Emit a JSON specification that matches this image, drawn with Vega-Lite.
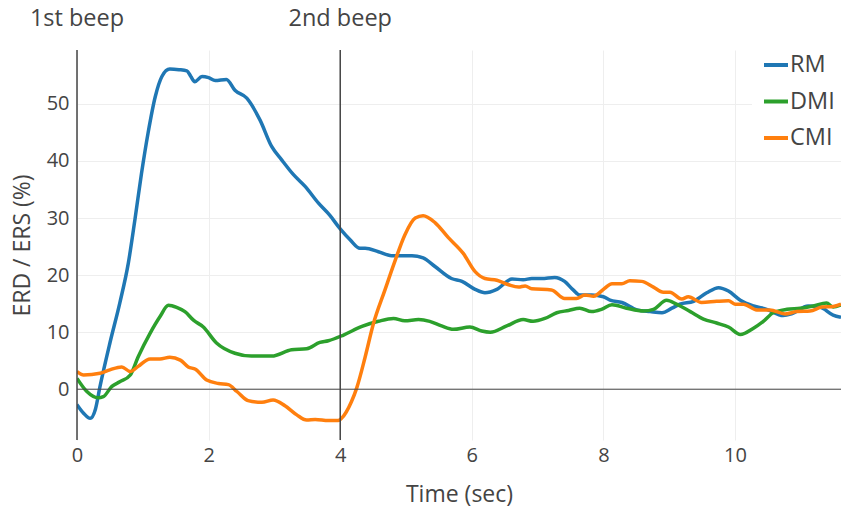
{
  "$schema": "https://vega.github.io/schema/vega-lite/v6.json",
  "width": 764,
  "height": 390,
  "autosize": {"type": "none"},
  "padding": {"left": 77, "top": 50, "right": 0, "bottom": 67},
  "background": "white",
  "config": {
    "font": "Open Sans",
    "view": {"stroke": null},
    "axis": {
      "labelFont": "Open Sans",
      "titleFont": "Open Sans",
      "labelColor": "#444444",
      "titleColor": "#444444",
      "labelFontSize": 20,
      "titleFontSize": 23,
      "titleFontWeight": "normal",
      "domain": false,
      "ticks": false,
      "labelFlush": false,
      "gridColor": "#eeeeee",
      "gridWidth": 1
    }
  },
  "datasets": {
    "erd": [
      {"t": 0, "value": -2.7, "condition": "RM"},
      {"t": 0.1, "value": -4.2, "condition": "RM"},
      {"t": 0.2, "value": -5.1, "condition": "RM"},
      {"t": 0.28, "value": -3.5, "condition": "RM"},
      {"t": 0.35, "value": 0.5, "condition": "RM"},
      {"t": 0.5, "value": 8.1, "condition": "RM"},
      {"t": 0.65, "value": 15.1, "condition": "RM"},
      {"t": 0.78, "value": 22.1, "condition": "RM"},
      {"t": 0.88, "value": 29.7, "condition": "RM"},
      {"t": 0.98, "value": 37.8, "condition": "RM"},
      {"t": 1.08, "value": 44.9, "condition": "RM"},
      {"t": 1.19, "value": 51.3, "condition": "RM"},
      {"t": 1.29, "value": 54.8, "condition": "RM"},
      {"t": 1.41, "value": 56.1, "condition": "RM"},
      {"t": 1.55, "value": 56.0, "condition": "RM"},
      {"t": 1.67, "value": 55.8, "condition": "RM"},
      {"t": 1.73, "value": 54.8, "condition": "RM"},
      {"t": 1.79, "value": 53.9, "condition": "RM"},
      {"t": 1.9, "value": 54.8, "condition": "RM"},
      {"t": 2.0, "value": 54.6, "condition": "RM"},
      {"t": 2.1, "value": 54.1, "condition": "RM"},
      {"t": 2.27, "value": 54.3, "condition": "RM"},
      {"t": 2.4, "value": 52.4, "condition": "RM"},
      {"t": 2.58, "value": 51.0, "condition": "RM"},
      {"t": 2.78, "value": 47.2, "condition": "RM"},
      {"t": 2.96, "value": 42.5, "condition": "RM"},
      {"t": 3.11, "value": 40.2, "condition": "RM"},
      {"t": 3.29, "value": 37.6, "condition": "RM"},
      {"t": 3.47, "value": 35.5, "condition": "RM"},
      {"t": 3.67, "value": 32.6, "condition": "RM"},
      {"t": 3.84, "value": 30.5, "condition": "RM"},
      {"t": 4.0, "value": 28.1, "condition": "RM"},
      {"t": 4.15, "value": 26.2, "condition": "RM"},
      {"t": 4.3, "value": 24.7, "condition": "RM"},
      {"t": 4.38, "value": 24.7, "condition": "RM"},
      {"t": 4.58, "value": 24.1, "condition": "RM"},
      {"t": 4.78, "value": 23.4, "condition": "RM"},
      {"t": 5.09, "value": 23.4, "condition": "RM"},
      {"t": 5.26, "value": 23.0, "condition": "RM"},
      {"t": 5.44, "value": 21.5, "condition": "RM"},
      {"t": 5.69, "value": 19.4, "condition": "RM"},
      {"t": 5.85, "value": 18.9, "condition": "RM"},
      {"t": 6.05, "value": 17.5, "condition": "RM"},
      {"t": 6.2, "value": 16.9, "condition": "RM"},
      {"t": 6.38, "value": 17.5, "condition": "RM"},
      {"t": 6.61, "value": 19.3, "condition": "RM"},
      {"t": 6.78, "value": 19.2, "condition": "RM"},
      {"t": 6.91, "value": 19.4, "condition": "RM"},
      {"t": 7.06, "value": 19.4, "condition": "RM"},
      {"t": 7.26, "value": 19.6, "condition": "RM"},
      {"t": 7.41, "value": 18.9, "condition": "RM"},
      {"t": 7.54, "value": 17.4, "condition": "RM"},
      {"t": 7.64, "value": 16.5, "condition": "RM"},
      {"t": 7.82, "value": 16.5, "condition": "RM"},
      {"t": 8.0, "value": 16.2, "condition": "RM"},
      {"t": 8.1, "value": 15.6, "condition": "RM"},
      {"t": 8.28, "value": 15.2, "condition": "RM"},
      {"t": 8.51, "value": 13.9, "condition": "RM"},
      {"t": 8.71, "value": 13.6, "condition": "RM"},
      {"t": 8.89, "value": 13.4, "condition": "RM"},
      {"t": 9.04, "value": 14.2, "condition": "RM"},
      {"t": 9.16, "value": 14.9, "condition": "RM"},
      {"t": 9.37, "value": 15.4, "condition": "RM"},
      {"t": 9.57, "value": 16.9, "condition": "RM"},
      {"t": 9.75, "value": 17.8, "condition": "RM"},
      {"t": 9.9, "value": 17.2, "condition": "RM"},
      {"t": 10.08, "value": 15.6, "condition": "RM"},
      {"t": 10.28, "value": 14.6, "condition": "RM"},
      {"t": 10.48, "value": 14.0, "condition": "RM"},
      {"t": 10.73, "value": 12.9, "condition": "RM"},
      {"t": 10.86, "value": 13.2, "condition": "RM"},
      {"t": 11.11, "value": 14.6, "condition": "RM"},
      {"t": 11.29, "value": 14.4, "condition": "RM"},
      {"t": 11.49, "value": 13.0, "condition": "RM"},
      {"t": 11.61, "value": 12.6, "condition": "RM"},

      {"t": 0, "value": 1.9, "condition": "DMI"},
      {"t": 0.15, "value": -0.4, "condition": "DMI"},
      {"t": 0.32, "value": -1.5, "condition": "DMI"},
      {"t": 0.4, "value": -1.3, "condition": "DMI"},
      {"t": 0.53, "value": 0.5, "condition": "DMI"},
      {"t": 0.65, "value": 1.3, "condition": "DMI"},
      {"t": 0.81, "value": 2.5, "condition": "DMI"},
      {"t": 0.93, "value": 5.7, "condition": "DMI"},
      {"t": 1.11, "value": 9.8, "condition": "DMI"},
      {"t": 1.26, "value": 12.7, "condition": "DMI"},
      {"t": 1.39, "value": 14.7, "condition": "DMI"},
      {"t": 1.52, "value": 14.3, "condition": "DMI"},
      {"t": 1.64, "value": 13.6, "condition": "DMI"},
      {"t": 1.77, "value": 12.1, "condition": "DMI"},
      {"t": 1.92, "value": 10.9, "condition": "DMI"},
      {"t": 2.12, "value": 8.1, "condition": "DMI"},
      {"t": 2.4, "value": 6.3, "condition": "DMI"},
      {"t": 2.65, "value": 5.8, "condition": "DMI"},
      {"t": 2.96, "value": 5.8, "condition": "DMI"},
      {"t": 3.26, "value": 6.9, "condition": "DMI"},
      {"t": 3.49, "value": 7.1, "condition": "DMI"},
      {"t": 3.69, "value": 8.2, "condition": "DMI"},
      {"t": 3.82, "value": 8.5, "condition": "DMI"},
      {"t": 4.05, "value": 9.5, "condition": "DMI"},
      {"t": 4.33, "value": 11.0, "condition": "DMI"},
      {"t": 4.58, "value": 11.9, "condition": "DMI"},
      {"t": 4.81, "value": 12.4, "condition": "DMI"},
      {"t": 4.98, "value": 12.0, "condition": "DMI"},
      {"t": 5.19, "value": 12.2, "condition": "DMI"},
      {"t": 5.36, "value": 11.9, "condition": "DMI"},
      {"t": 5.54, "value": 11.1, "condition": "DMI"},
      {"t": 5.72, "value": 10.5, "condition": "DMI"},
      {"t": 5.97, "value": 10.9, "condition": "DMI"},
      {"t": 6.15, "value": 10.2, "condition": "DMI"},
      {"t": 6.28, "value": 10.0, "condition": "DMI"},
      {"t": 6.53, "value": 11.1, "condition": "DMI"},
      {"t": 6.78, "value": 12.2, "condition": "DMI"},
      {"t": 6.93, "value": 11.9, "condition": "DMI"},
      {"t": 7.11, "value": 12.4, "condition": "DMI"},
      {"t": 7.29, "value": 13.4, "condition": "DMI"},
      {"t": 7.47, "value": 13.8, "condition": "DMI"},
      {"t": 7.64, "value": 14.2, "condition": "DMI"},
      {"t": 7.82, "value": 13.6, "condition": "DMI"},
      {"t": 7.97, "value": 14.0, "condition": "DMI"},
      {"t": 8.13, "value": 14.8, "condition": "DMI"},
      {"t": 8.35, "value": 14.2, "condition": "DMI"},
      {"t": 8.61, "value": 13.7, "condition": "DMI"},
      {"t": 8.76, "value": 14.0, "condition": "DMI"},
      {"t": 8.96, "value": 15.6, "condition": "DMI"},
      {"t": 9.11, "value": 14.9, "condition": "DMI"},
      {"t": 9.32, "value": 13.6, "condition": "DMI"},
      {"t": 9.52, "value": 12.3, "condition": "DMI"},
      {"t": 9.72, "value": 11.6, "condition": "DMI"},
      {"t": 9.9, "value": 10.9, "condition": "DMI"},
      {"t": 10.08, "value": 9.6, "condition": "DMI"},
      {"t": 10.28, "value": 10.7, "condition": "DMI"},
      {"t": 10.43, "value": 11.9, "condition": "DMI"},
      {"t": 10.58, "value": 13.4, "condition": "DMI"},
      {"t": 10.79, "value": 14.0, "condition": "DMI"},
      {"t": 10.99, "value": 14.2, "condition": "DMI"},
      {"t": 11.19, "value": 14.6, "condition": "DMI"},
      {"t": 11.39, "value": 15.1, "condition": "DMI"},
      {"t": 11.49, "value": 14.4, "condition": "DMI"},
      {"t": 11.61, "value": 14.8, "condition": "DMI"},

      {"t": 0, "value": 3.1, "condition": "CMI"},
      {"t": 0.1, "value": 2.5, "condition": "CMI"},
      {"t": 0.35, "value": 2.8, "condition": "CMI"},
      {"t": 0.5, "value": 3.4, "condition": "CMI"},
      {"t": 0.68, "value": 3.9, "condition": "CMI"},
      {"t": 0.81, "value": 3.1, "condition": "CMI"},
      {"t": 0.93, "value": 4.0, "condition": "CMI"},
      {"t": 1.11, "value": 5.3, "condition": "CMI"},
      {"t": 1.26, "value": 5.3, "condition": "CMI"},
      {"t": 1.41, "value": 5.6, "condition": "CMI"},
      {"t": 1.57, "value": 5.1, "condition": "CMI"},
      {"t": 1.69, "value": 3.9, "condition": "CMI"},
      {"t": 1.8, "value": 3.5, "condition": "CMI"},
      {"t": 1.97, "value": 1.6, "condition": "CMI"},
      {"t": 2.15, "value": 1.0, "condition": "CMI"},
      {"t": 2.3, "value": 0.8, "condition": "CMI"},
      {"t": 2.43, "value": -0.4, "condition": "CMI"},
      {"t": 2.6, "value": -2.0, "condition": "CMI"},
      {"t": 2.81, "value": -2.3, "condition": "CMI"},
      {"t": 2.98, "value": -1.9, "condition": "CMI"},
      {"t": 3.16, "value": -2.9, "condition": "CMI"},
      {"t": 3.34, "value": -4.5, "condition": "CMI"},
      {"t": 3.49, "value": -5.4, "condition": "CMI"},
      {"t": 3.62, "value": -5.3, "condition": "CMI"},
      {"t": 3.82, "value": -5.5, "condition": "CMI"},
      {"t": 3.97, "value": -5.5, "condition": "CMI"},
      {"t": 4.02, "value": -5.1, "condition": "CMI"},
      {"t": 4.17, "value": -2.2, "condition": "CMI"},
      {"t": 4.25, "value": 0.2, "condition": "CMI"},
      {"t": 4.38, "value": 5.7, "condition": "CMI"},
      {"t": 4.5, "value": 11.3, "condition": "CMI"},
      {"t": 4.68, "value": 17.4, "condition": "CMI"},
      {"t": 4.83, "value": 22.4, "condition": "CMI"},
      {"t": 4.98, "value": 27.0, "condition": "CMI"},
      {"t": 5.14, "value": 30.0, "condition": "CMI"},
      {"t": 5.26, "value": 30.4, "condition": "CMI"},
      {"t": 5.44, "value": 29.2, "condition": "CMI"},
      {"t": 5.64, "value": 26.6, "condition": "CMI"},
      {"t": 5.87, "value": 23.8, "condition": "CMI"},
      {"t": 6.05, "value": 20.6, "condition": "CMI"},
      {"t": 6.2, "value": 19.4, "condition": "CMI"},
      {"t": 6.38, "value": 19.1, "condition": "CMI"},
      {"t": 6.56, "value": 18.3, "condition": "CMI"},
      {"t": 6.71, "value": 17.9, "condition": "CMI"},
      {"t": 6.81, "value": 18.1, "condition": "CMI"},
      {"t": 6.91, "value": 17.6, "condition": "CMI"},
      {"t": 7.21, "value": 17.4, "condition": "CMI"},
      {"t": 7.41, "value": 15.9, "condition": "CMI"},
      {"t": 7.59, "value": 15.9, "condition": "CMI"},
      {"t": 7.72, "value": 16.5, "condition": "CMI"},
      {"t": 7.85, "value": 16.3, "condition": "CMI"},
      {"t": 8.02, "value": 17.7, "condition": "CMI"},
      {"t": 8.13, "value": 18.5, "condition": "CMI"},
      {"t": 8.28, "value": 18.5, "condition": "CMI"},
      {"t": 8.4, "value": 19.0, "condition": "CMI"},
      {"t": 8.58, "value": 18.9, "condition": "CMI"},
      {"t": 8.76, "value": 17.9, "condition": "CMI"},
      {"t": 8.91, "value": 17.0, "condition": "CMI"},
      {"t": 9.01, "value": 17.0, "condition": "CMI"},
      {"t": 9.19, "value": 15.8, "condition": "CMI"},
      {"t": 9.29, "value": 16.2, "condition": "CMI"},
      {"t": 9.49, "value": 15.2, "condition": "CMI"},
      {"t": 9.72, "value": 15.4, "condition": "CMI"},
      {"t": 9.9, "value": 15.5, "condition": "CMI"},
      {"t": 10.0, "value": 14.9, "condition": "CMI"},
      {"t": 10.13, "value": 14.9, "condition": "CMI"},
      {"t": 10.33, "value": 13.9, "condition": "CMI"},
      {"t": 10.53, "value": 13.9, "condition": "CMI"},
      {"t": 10.76, "value": 13.2, "condition": "CMI"},
      {"t": 10.94, "value": 13.6, "condition": "CMI"},
      {"t": 11.14, "value": 13.7, "condition": "CMI"},
      {"t": 11.32, "value": 14.4, "condition": "CMI"},
      {"t": 11.49, "value": 14.5, "condition": "CMI"},
      {"t": 11.61, "value": 14.9, "condition": "CMI"}
    ],
    "beeps": [
      {"t": 0, "event": "1st beep"},
      {"t": 4, "event": "2nd beep"}
    ]
  },
  "layer": [
    {
      "data": {"name": "erd"},
      "mark": {"type": "line", "strokeWidth": 3.5, "interpolate": "monotone", "clip": true},
      "encoding": {
        "x": {
          "field": "t",
          "type": "quantitative",
          "scale": {"domain": [0, 11.61], "nice": false, "zero": false},
          "axis": {
            "title": "Time (sec)",
            "values": [0, 2, 4, 6, 8, 10],
            "format": "d",
            "labelPadding": 5,
            "titlePadding": 18,
            "grid": true
          }
        },
        "y": {
          "field": "value",
          "type": "quantitative",
          "scale": {"domain": [-8.9, 59.45], "nice": false, "zero": false},
          "axis": {
            "title": "ERD / ERS (%)",
            "values": [0, 10, 20, 30, 40, 50],
            "format": "d",
            "labelPadding": 8,
            "titlePadding": 12,
            "grid": true
          }
        },
        "color": {
          "field": "condition",
          "type": "nominal",
          "scale": {"domain": ["RM", "DMI", "CMI"], "range": ["#1f77b4", "#2ca02c", "#ff7f0e"]},
          "legend": {
            "title": null,
            "orient": "none",
            "legendX": 675,
            "legendY": -9,
            "fillColor": "white",
            "padding": 10,
            "symbolType": "stroke",
            "symbolSize": 576,
            "symbolStrokeWidth": 4,
            "labelFont": "Open Sans",
            "labelFontSize": 23.5,
            "labelColor": "#444444",
            "labelOffset": 0,
            "rowPadding": 10.5
          }
        }
      }
    },
    {
      "data": {"values": [{"level": 0}]},
      "mark": {"type": "rule", "color": "#444444", "strokeWidth": 1},
      "encoding": {"y": {"field": "level", "type": "quantitative"}}
    },
    {
      "data": {"name": "beeps"},
      "mark": {"type": "rule", "color": "#444444", "strokeWidth": 1.5},
      "encoding": {"x": {"field": "t", "type": "quantitative"}}
    },
    {
      "data": {"name": "beeps"},
      "mark": {"type": "text", "fontSize": 23.5, "font": "Open Sans", "color": "#444444", "baseline": "middle", "align": "center"},
      "encoding": {
        "x": {"field": "t", "type": "quantitative"},
        "y": {"datum": 64.8},
        "text": {"field": "event"}
      }
    }
  ]
}
